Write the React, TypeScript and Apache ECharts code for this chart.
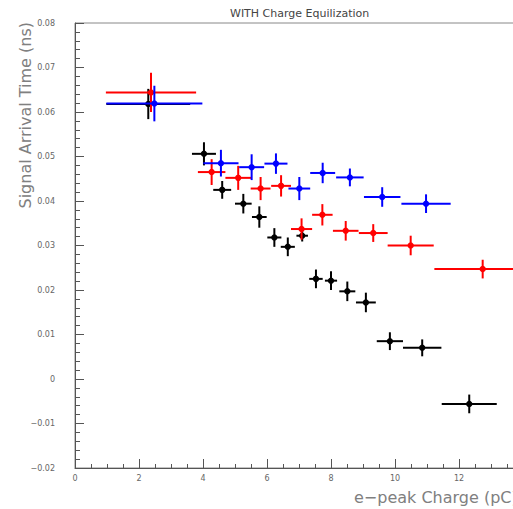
import React, { useEffect, useRef } from "react";
import * as echarts from "echarts";

// Black series
const blackX = [2.29, 4.03, 4.6, 5.26, 5.76, 6.23, 6.65, 7.1, 7.53, 8.0, 8.51, 9.09, 9.84, 10.85, 12.32];
const blackY = [0.0618, 0.0506, 0.0425, 0.0394, 0.0364, 0.0318, 0.0297, 0.0322, 0.0225, 0.0221, 0.0197, 0.0172, 0.0085, 0.007, -0.0056];
const blackXErr = [1.31, 0.375, 0.28, 0.26, 0.23, 0.22, 0.22, 0.18, 0.21, 0.19, 0.25, 0.31, 0.41, 0.6, 0.86];
const blackYErr = [0.0034, 0.0026, 0.002, 0.0022, 0.0024, 0.0021, 0.0021, 0.0013, 0.0021, 0.0021, 0.0022, 0.0022, 0.002, 0.0019, 0.0021];

// Red series
const redX = [2.375, 4.27, 5.1, 5.8, 6.44, 7.08, 7.73, 8.46, 9.32, 10.49, 12.74];
const redY = [0.0644, 0.0465, 0.0452, 0.0428, 0.0434, 0.0337, 0.0369, 0.0333, 0.0328, 0.03, 0.0247];
const redXErr = [1.41, 0.43, 0.4, 0.31, 0.31, 0.33, 0.32, 0.4, 0.45, 0.72, 1.51];
const redYErr = [0.0044, 0.0029, 0.0027, 0.0026, 0.0024, 0.0024, 0.0024, 0.0022, 0.002, 0.0022, 0.0021];

// Blue series
const blueX = [2.48, 4.56, 5.52, 6.28, 7.01, 7.74, 8.59, 9.6, 10.97];
const blueY = [0.0619, 0.0485, 0.0476, 0.0484, 0.0428, 0.0463, 0.0453, 0.0409, 0.0394];
const blueXErr = [1.5, 0.55, 0.39, 0.36, 0.34, 0.39, 0.43, 0.57, 0.77];
const blueYErr = [0.004, 0.003, 0.0029, 0.0023, 0.0026, 0.0023, 0.002, 0.0022, 0.0021];

const titleText = "WITH Charge Equilization";
const xTitle = "e\u2212peak Charge (pC)";
const yTitle = "Signal Arrival Time (ns)";

const FONT = "DejaVu Sans, Verdana, sans-serif";

function rows(xs: number[], ys: number[], xe: number[], ye: number[]) {
  return xs.map((x, i) => [x, ys[i], xe[i], ye[i]]);
}

function errorSeries(name: string, color: string, data: number[][]) {
  return {
    type: "custom",
    name,
    data,
    encode: { x: 0, y: 1 },
    clip: false,
    renderItem: (params: any, api: any) => {
      const x = api.value(0);
      const y = api.value(1);
      const xe = api.value(2);
      const ye = api.value(3);
      const c = api.coord([x, y]);
      const l = api.coord([x - xe, y]);
      const r = api.coord([x + xe, y]);
      const t = api.coord([x, y + ye]);
      const b = api.coord([x, y - ye]);
      const style = { stroke: color, lineWidth: 2 };
      return {
        type: "group",
        children: [
          { type: "line", shape: { x1: l[0], y1: l[1], x2: r[0], y2: r[1] }, style },
          { type: "line", shape: { x1: t[0], y1: t[1], x2: b[0], y2: b[1] }, style },
          { type: "circle", shape: { cx: c[0], cy: c[1], r: 3.2 }, style: { fill: color } },
        ],
      };
    },
  };
}

export default function App() {
  const ref = useRef<HTMLDivElement>(null);

  useEffect(() => {
    if (!ref.current) return;
    const chart = echarts.init(ref.current, undefined, { renderer: "svg" });
    const axisColor = "#555";
    const labelColor = "#666";
    chart.setOption({
      animation: false,
      backgroundColor: "#fff",
      grid: {
        left: 75,
        top: 23,
        width: 448,
        height: 445,
        show: true,
        borderColor: "#888",
        borderWidth: 1,
      },
      xAxis: {
        type: "value",
        min: 0,
        max: 14,
        interval: 2,
        splitLine: { show: false },
        axisLine: { onZero: false, lineStyle: { color: axisColor, width: 1 } },
        axisTick: { inside: true, length: 9, lineStyle: { color: axisColor } },
        minorTick: { show: true, splitNumber: 4, length: 4, lineStyle: { color: axisColor } },
        axisLabel: {
          color: labelColor,
          fontSize: 8,
          fontFamily: FONT,
          margin: 6,
          showMaxLabel: false,
          formatter: (v: number) => String(Math.round(v)),
        },
      },
      yAxis: {
        type: "value",
        min: -0.02,
        max: 0.08,
        interval: 0.01,
        splitLine: { show: false },
        axisLine: { onZero: false, lineStyle: { color: axisColor, width: 1 } },
        axisTick: { inside: true, length: 9, lineStyle: { color: axisColor } },
        minorTick: { show: true, splitNumber: 5, length: 5, lineStyle: { color: axisColor } },
        axisLabel: {
          color: labelColor,
          fontSize: 8,
          fontFamily: FONT,
          margin: 20,
          formatter: (v: number) =>
            Math.abs(v) < 1e-9 ? "0" : v.toFixed(2).replace("-", "\u2212"),
        },
      },
      graphic: [
        {
          type: "text",
          x: 230,
          y: 13,
          style: {
            text: titleText,
            fill: "#444",
            fontSize: 11,
            fontFamily: FONT,
            textAlign: "left",
            textVerticalAlign: "middle",
          },
        },
        {
          type: "text",
          x: 354,
          y: 497,
          style: {
            text: xTitle,
            fill: "#808080",
            fontSize: 16,
            fontFamily: FONT,
            textAlign: "left",
            textVerticalAlign: "middle",
          },
        },
        {
          type: "text",
          x: 25,
          y: 22,
          rotation: Math.PI / 2,
          style: {
            text: yTitle,
            fill: "#808080",
            fontSize: 16,
            fontFamily: FONT,
            textAlign: "right",
            textVerticalAlign: "middle",
          },
        },
      ],
      series: [
        errorSeries("black", "#000000", rows(blackX, blackY, blackXErr, blackYErr)),
        errorSeries("red", "#ff0000", rows(redX, redY, redXErr, redYErr)),
        errorSeries("blue", "#0000ff", rows(blueX, blueY, blueXErr, blueYErr)),
      ],
    });
    return () => chart.dispose();
  }, []);

  // The canvas is wider than the window so the frame runs past its right edge.
  return (
    <div
      ref={ref}
      style={{ position: "fixed", left: 0, top: 0, width: 560, height: 509 }}
    />
  );
}
